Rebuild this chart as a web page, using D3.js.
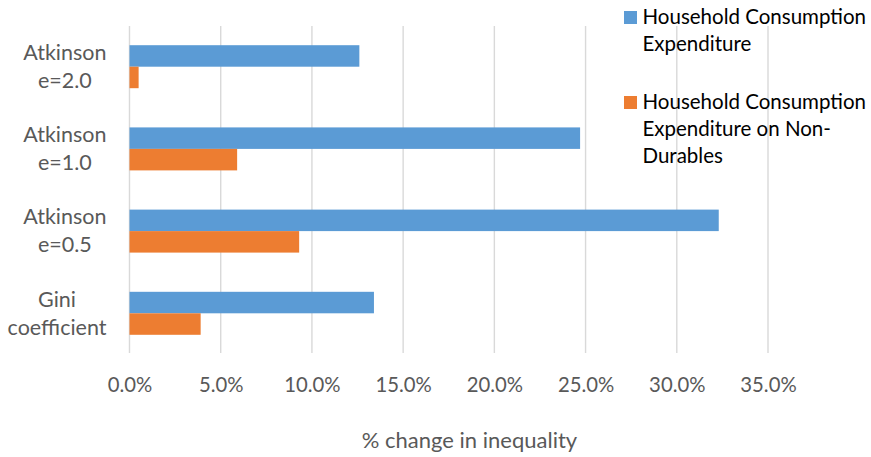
<!DOCTYPE html>
<html>
<head>
<meta charset="utf-8">
<script src="https://cdn.jsdelivr.net/npm/d3@7/dist/d3.min.js"></script>
<style>
  html, body { margin: 0; padding: 0; background: #fff; }
  svg { display: block; }
  text { font-family: Lato, "Open Sans", sans-serif; }
</style>
</head>
<body>
<svg id="chart" width="871" height="457"></svg>
<script>
// Inequality measures, listed top to bottom
const categories = [
  ["Atkinson", "e=2.0"],
  ["Atkinson", "e=1.0"],
  ["Atkinson", "e=0.5"],
  ["Gini", "coefficient"]
];
const seriesNames = [
  ["Household Consumption", "Expenditure"],
  ["Household Consumption", "Expenditure on Non-", "Durables"]
];
// % change in inequality, one value per category
const totalExpenditure = [12.6, 24.7, 32.3, 13.4];
const nonDurables = [0.5, 5.9, 9.3, 3.9];
const tickValues = [0, 5, 10, 15, 20, 25, 30, 35];
const axisTitle = "% change in inequality";

const colors = ["#5B9BD5", "#ED7D31"];
const seriesValues = [totalExpenditure, nonDurables];

const svg = d3.select("#chart");
const plot = { left: 129.5, right: 768, top: 25.6, bottom: 354.4 };

const x = d3.scaleLinear().domain([0, 35]).range([plot.left, plot.right]);
const y0 = d3.scaleBand()
  .domain(d3.range(categories.length))
  .range([plot.top, plot.bottom])
  .paddingInner(0.477)
  .paddingOuter(0.2385);
const y1 = d3.scaleBand()
  .domain(d3.range(seriesValues.length))
  .range([0, y0.bandwidth()]);

// Vertical gridlines
svg.append("g")
  .selectAll("line")
  .data(tickValues)
  .join("line")
  .attr("x1", d => x(d))
  .attr("x2", d => x(d))
  .attr("y1", 26)
  .attr("y2", 353)
  .attr("stroke", "#D9D9D9")
  .attr("stroke-width", 1.4);

// Bars
const groups = svg.append("g")
  .selectAll("g")
  .data(categories.map((c, i) => i))
  .join("g")
  .attr("transform", i => `translate(0,${y0(i)})`);

groups.selectAll("rect")
  .data(i => seriesValues.map((vals, s) => ({ s, v: vals[i] })))
  .join("rect")
  .attr("x", x(0))
  .attr("y", d => y1(d.s))
  .attr("width", d => x(d.v) - x(0))
  .attr("height", y1.bandwidth())
  .attr("fill", d => colors[d.s]);

// Category labels: two-line blocks, right-aligned, lines centred in block
const catLabels = svg.append("g")
  .attr("font-size", 21.5)
  .attr("fill", "#595959");
categories.forEach((lines, i) => {
  const c = y0(i) + y0.bandwidth() / 2;
  const g = catLabels.append("g");
  const texts = lines.map((ln, k) =>
    g.append("text")
      .attr("y", c - 6.7 + k * 28)
      .attr("text-anchor", "middle")
      .text(ln));
  const maxW = d3.max(texts, t => t.node().getComputedTextLength());
  texts.forEach(t => t.attr("x", 106.5 - maxW / 2));
});

// X axis tick labels
const xAxis = d3.axisBottom(x)
  .tickValues(tickValues)
  .tickSize(0)
  .tickPadding(0)
  .tickFormat(d => d3.format(".1f")(d) + "%");
const axisG = svg.append("g")
  .attr("transform", "translate(0,377.5)")
  .call(xAxis);
axisG.select(".domain").remove();
axisG.selectAll("text")
  .attr("font-family", "Lato, 'Open Sans', sans-serif")
  .attr("font-size", 20.3)
  .attr("fill", "#595959")
  .attr("dy", "0.72em");

// Axis title
svg.append("text")
  .attr("x", 469.5)
  .attr("y", 448.3)
  .attr("text-anchor", "middle")
  .attr("font-size", 22)
  .attr("fill", "#595959")
  .text(axisTitle);

// Legend
const legendTops = [24, 109];
const legend = svg.append("g");
seriesNames.forEach((lines, s) => {
  const base = legendTops[s];
  legend.append("rect")
    .attr("x", 624)
    .attr("y", base - 13)
    .attr("width", 13)
    .attr("height", 13)
    .attr("fill", colors[s]);
  lines.forEach((ln, k) => {
    legend.append("text")
      .attr("x", 642.5)
      .attr("y", base + k * 27)
      .attr("font-size", 20.5)
      .attr("fill", "#000")
      .text(ln);
  });
});
</script>
</body>
</html>
